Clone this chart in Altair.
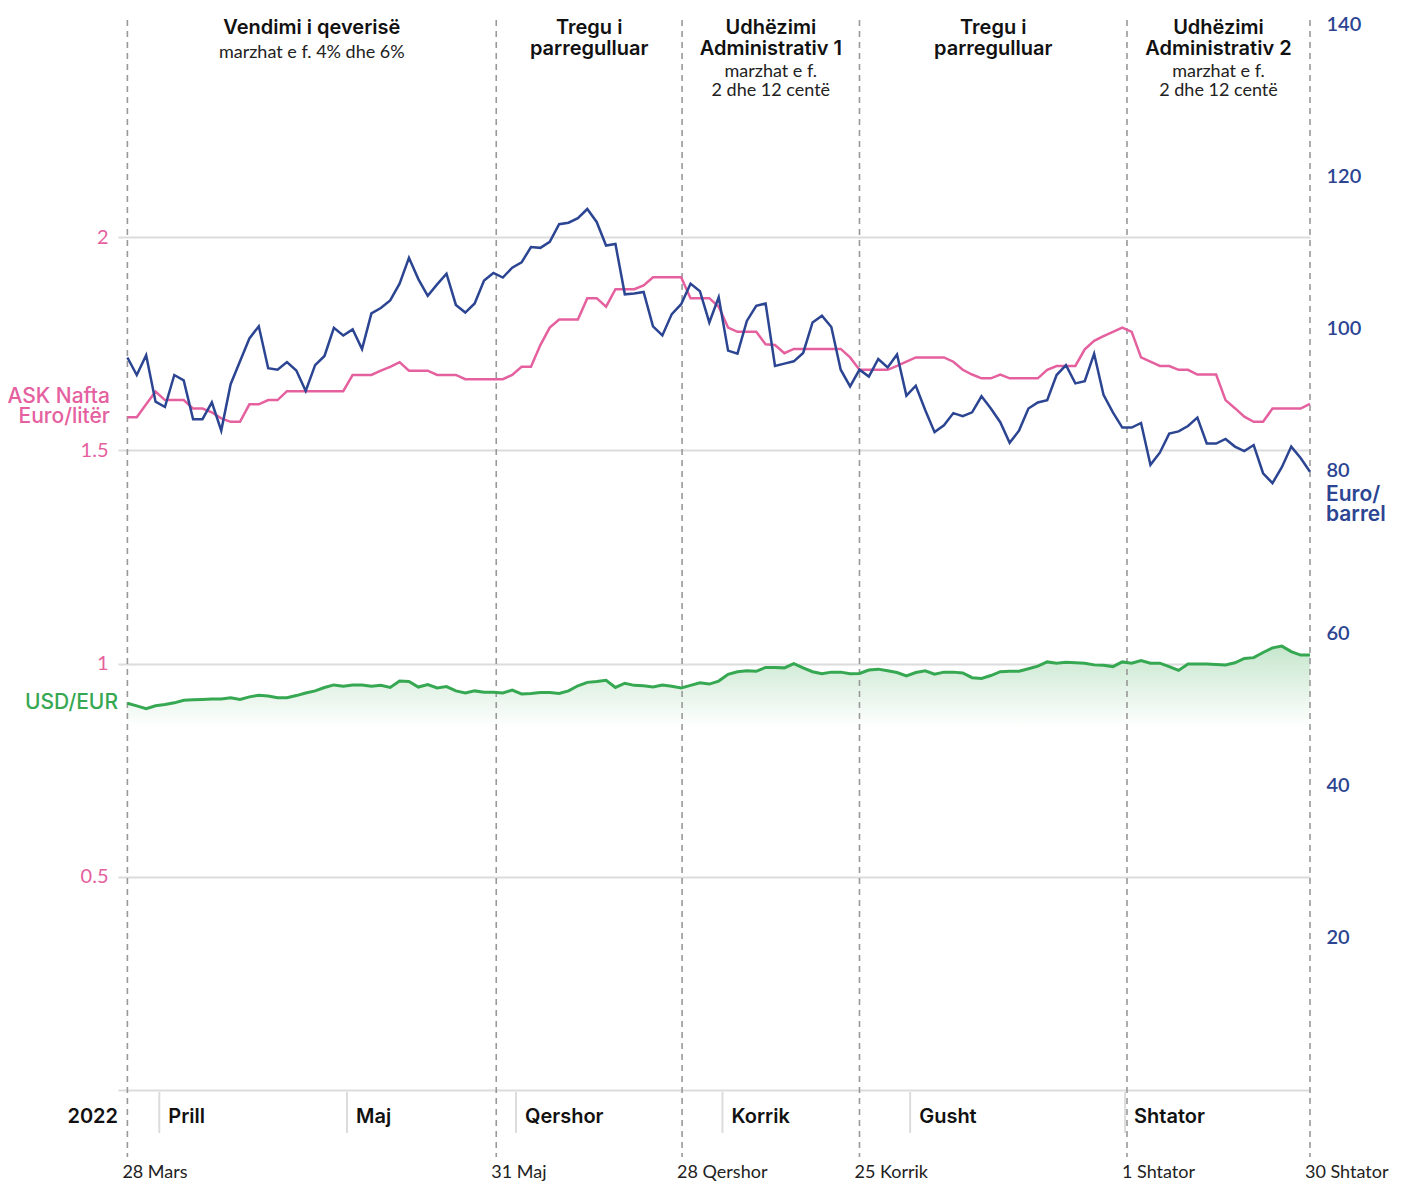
import altair as alt
import pandas as pd

# Brent (Euro/barrel), ASK Nafta (Euro/litër), USD/EUR — one value per trading day, 28 Mars – 30 Shtator 2022
brent = [96.2, 93.9, 96.5, 90.4, 89.7, 93.9, 93.2, 88.1, 88.1, 90.3,
         86.6, 92.7, 95.7, 98.7, 100.3, 94.8, 94.6, 95.6, 94.5, 91.8,
         95.2, 96.4, 100.1, 99.1, 99.9, 97.3, 102.0, 102.7, 103.7, 105.9,
         109.3, 106.5, 104.3, 105.8, 107.2, 103.1, 102.1, 103.3, 106.3, 107.3,
         106.7, 108.0, 108.7, 110.7, 110.6, 111.4, 113.7, 113.9, 114.5, 115.7,
         114.0, 110.9, 111.1, 104.5, 104.6, 104.8, 100.3, 99.1, 101.9, 103.2,
         105.9, 104.9, 100.8, 104.1, 97.1, 96.7, 101.0, 103.0, 103.3, 95.1,
         95.4, 95.7, 96.8, 100.8, 101.7, 100.2, 94.6, 92.4, 94.6, 93.7,
         96.0, 94.9, 96.6, 91.2, 92.5, 89.3, 86.4, 87.3, 88.9, 88.5,
         89.0, 91.1, 89.5, 87.7, 85.0, 86.6, 89.5, 90.3, 90.6, 93.9,
         95.2, 92.8, 93.1, 96.7, 91.3, 89.0, 87.0, 87.0, 87.6, 82.1,
         83.7, 86.2, 86.5, 87.2, 88.3, 84.9, 84.9, 85.5, 84.5, 83.9,
         84.7, 81.0, 79.7, 81.8, 84.5, 83.0, 81.2]

ask = [1.578, 1.578, 1.608, 1.638, 1.618, 1.618, 1.618, 1.598, 1.598, 1.589,
       1.575, 1.567, 1.567, 1.608, 1.608, 1.618, 1.618, 1.639, 1.639, 1.639,
       1.639, 1.639, 1.639, 1.639, 1.677, 1.677, 1.677, 1.687, 1.696, 1.707,
       1.687, 1.687, 1.687, 1.677, 1.677, 1.677, 1.667, 1.667, 1.667, 1.667,
       1.667, 1.677, 1.696, 1.696, 1.747, 1.788, 1.807, 1.807, 1.807, 1.857,
       1.857, 1.837, 1.878, 1.878, 1.878, 1.887, 1.906, 1.906, 1.906, 1.906,
       1.857, 1.857, 1.857, 1.837, 1.788, 1.778, 1.778, 1.778, 1.749, 1.747,
       1.728, 1.738, 1.738, 1.738, 1.738, 1.738, 1.738, 1.718, 1.689, 1.689,
       1.689, 1.689, 1.698, 1.708, 1.718, 1.718, 1.718, 1.718, 1.708, 1.689,
       1.678, 1.669, 1.669, 1.678, 1.669, 1.669, 1.669, 1.669, 1.689, 1.698,
       1.698, 1.698, 1.737, 1.757, 1.768, 1.778, 1.788, 1.778, 1.718, 1.708,
       1.698, 1.698, 1.689, 1.689, 1.678, 1.678, 1.678, 1.618, 1.599, 1.579,
       1.567, 1.567, 1.598, 1.598, 1.598, 1.598, 1.609]

usd = [0.907, 0.901, 0.894, 0.901, 0.904, 0.908, 0.914, 0.915, 0.916, 0.917,
       0.917, 0.920, 0.916, 0.922, 0.926, 0.924, 0.920, 0.920, 0.925, 0.931,
       0.936, 0.944, 0.950, 0.947, 0.950, 0.950, 0.947, 0.949, 0.944, 0.959,
       0.958, 0.945, 0.951, 0.943, 0.946, 0.936, 0.931, 0.936, 0.933, 0.933,
       0.931, 0.938, 0.929, 0.930, 0.932, 0.932, 0.930, 0.936, 0.948, 0.956,
       0.958, 0.961, 0.944, 0.954, 0.949, 0.948, 0.945, 0.950, 0.947, 0.943,
       0.949, 0.955, 0.952, 0.959, 0.975, 0.981, 0.983, 0.982, 0.991, 0.991,
       0.990, 1.000, 0.990, 0.981, 0.976, 0.980, 0.980, 0.976, 0.977, 0.985,
       0.987, 0.983, 0.979, 0.971, 0.979, 0.983, 0.975, 0.980, 0.980, 0.978,
       0.967, 0.965, 0.972, 0.981, 0.982, 0.982, 0.988, 0.994, 1.004, 1.001,
       1.003, 1.002, 1.001, 0.997, 0.996, 0.993, 1.004, 1.001, 1.007, 1.001,
       1.001, 0.993, 0.984, 0.999, 0.999, 0.999, 0.998, 0.997, 1.002, 1.012,
       1.014, 1.026, 1.037, 1.041, 1.028, 1.020, 1.020]

# key dates (position on the trading-day axis) and their labels
event_pos = [0, 39.3, 59.1, 78.0, 106.5, 126]
event_dates = ["28 Mars", "31 Maj", "28 Qershor", "25 Korrik", "1 Shtator", "30 Shtator"]

seg_titles = ["Vendimi i qeverisë", "Tregu i\nparregulluar", "Udhëzimi\nAdministrativ 1",
              "Tregu i\nparregulluar", "Udhëzimi\nAdministrativ 2"]
seg_notes = ["marzhat e f. 4% dhe 6%", "", "\nmarzhat e f.\n2 dhe 12 centë", "",
             "\nmarzhat e f.\n2 dhe 12 centë"]

month_pos = [3.4, 23.4, 41.4, 63.4, 83.4, 106.3]
month_names = ["Prill", "Maj", "Qershor", "Korrik", "Gusht", "Shtator"]

left_ticks = [0, 0.5, 1, 1.5, 2]
right_ticks = [20, 40, 60, 80, 100, 120, 140]

PINK = "#e5609f"
BLUE = "#2c4592"
GREEN = "#36a852"
GRID = "#dcdcdc"
DASH = "#999999"
FONT = "Lato"
FONT2 = "Inter"

df = pd.DataFrame({"i": list(range(len(brent))), "brent": brent, "ask": ask, "usd": usd})
ev = pd.DataFrame({"pos": event_pos, "date": event_dates})
seg = pd.DataFrame({
    "mid": [(event_pos[k] + event_pos[k + 1]) / 2 for k in range(len(seg_titles))],
    "title": seg_titles, "note": seg_notes})
mon = pd.DataFrame({"pos": month_pos, "name": month_names})

xscale = alt.Scale(domain=[-1, 126], nice=False, zero=False)
lscale = alt.Scale(domain=[0, 2.5], nice=False, zero=True)
rscale = alt.Scale(domain=[0, 140], nice=False, zero=True)

laxis = alt.Axis(values=left_ticks, format="~g", labelExpr="datum.value == 0 ? '' : datum.label",
                 grid=True, gridColor=GRID, gridWidth=2, domain=False, ticks=False,
                 labelColor=PINK, labelFontSize=20, labelFont=FONT, labelPadding=10, title=None)
raxis = alt.Axis(orient="right", values=right_ticks, grid=False, domain=False, ticks=False,
                 labelColor=BLUE, labelFontSize=20, labelFontWeight=600, labelFont=FONT,
                 labelPadding=16, title=None,
                 labelOffset={"condition": {"test": "datum.value == 80", "value": -10}, "value": 0})

X = lambda f: alt.X(f, scale=xscale, axis=None)

gradient = alt.Gradient(gradient="linear",
                        stops=[alt.GradientStop(color="#c6e6cd", offset=0),
                               alt.GradientStop(color="#ffffff", offset=1)],
                        x1=1, x2=1, y1=0, y2=1)

area = alt.Chart(df).mark_area(color=gradient).encode(
    x=X("i:Q"), y=alt.Y("usd:Q", scale=lscale, axis=laxis), y2=alt.datum(0.85))
usd_line = alt.Chart(df).mark_line(color=GREEN, strokeWidth=3).encode(
    x=X("i:Q"), y=alt.Y("usd:Q", scale=lscale, axis=laxis))
ask_line = alt.Chart(df).mark_line(color=PINK, strokeWidth=2.5).encode(
    x=X("i:Q"), y=alt.Y("ask:Q", scale=lscale, axis=laxis))

ev_rules = alt.Chart(ev).mark_rule(color=DASH, strokeDash=[6, 5], strokeWidth=1.6).encode(
    x=X("pos:Q"), y=alt.value(-4), y2=alt.value(1133))
ev_text = alt.Chart(ev).mark_text(align="left", baseline="middle", dx=-5, fontSize=18,
                                  font=FONT, color="#222222").encode(
    x=X("pos:Q"), y=alt.value(1149), text="date:N")
mon_rules = alt.Chart(mon).mark_rule(color=GRID, strokeWidth=2).encode(
    x=X("pos:Q"), y=alt.value(1068), y2=alt.value(1109))
mon_text = alt.Chart(mon).mark_text(align="left", baseline="middle", dx=9, fontSize=20,
                                    fontWeight=600, font=FONT2, color="#111111").encode(
    x=X("pos:Q"), y=alt.value(1093), text="name:N")
year_text = alt.Chart(pd.DataFrame({"t": ["2022"]})).mark_text(
    align="right", baseline="middle", fontSize=20, fontWeight=600, font=FONT2, color="#111111").encode(
    x=alt.value(0), y=alt.value(1093), text="t:N")

seg_title = alt.Chart(seg).mark_text(align="center", baseline="top", fontSize=20, fontWeight=600,
                                     font=FONT2, color="#111111", lineBreak="\n", lineHeight=21).encode(
    x=X("mid:Q"), y=alt.value(-6), text="title:N")
seg_note = alt.Chart(seg).mark_text(align="center", baseline="top", fontSize=18, font=FONT,
                                    color="#222222", lineBreak="\n", lineHeight=19).encode(
    x=X("mid:Q"), y=alt.value(20), text="note:N")

side = pd.DataFrame({"t": ["ASK Nafta\nEuro/litër"]})
ask_lab = alt.Chart(side).mark_text(align="right", baseline="middle", fontSize=21, fontWeight=500,
                                    font=FONT2, color=PINK, lineBreak="\n", lineHeight=20).encode(
    x=alt.value(-8), y=alt.value(373), text="t:N")
usd_lab = alt.Chart(pd.DataFrame({"t": ["USD/EUR"]})).mark_text(
    align="right", baseline="middle", fontSize=21, fontWeight=500, font=FONT2, color=GREEN).encode(
    x=alt.value(0), y=alt.value(679), text="t:N")
brent_lab = alt.Chart(pd.DataFrame({"t": ["Euro/\nbarrel"]})).mark_text(
    align="left", baseline="middle", fontSize=21, fontWeight=600, font=FONT2, color=BLUE,
    lineBreak="\n", lineHeight=20).encode(
    x=alt.value(1208), y=alt.value(471), text="t:N")

left = alt.layer(area, ev_rules, mon_rules, usd_line, ask_line, ev_text, mon_text, year_text,
                 seg_title, seg_note, ask_lab, usd_lab, brent_lab)

brent_line = alt.Chart(df).mark_line(color=BLUE, strokeWidth=2.5).encode(
    x=X("i:Q"), y=alt.Y("brent:Q", scale=rscale, axis=raxis))

chart = alt.layer(left, brent_line).resolve_scale(y="independent").properties(
    width=1192, height=1066,
    autosize=alt.AutoSizeParams(type="none"),
    padding={"left": 110, "top": 16, "right": 85, "bottom": 100},
    background="white",
).configure_view(stroke=None)

chart.save("out.html", embed_options={"renderer": "svg", "actions": False})
